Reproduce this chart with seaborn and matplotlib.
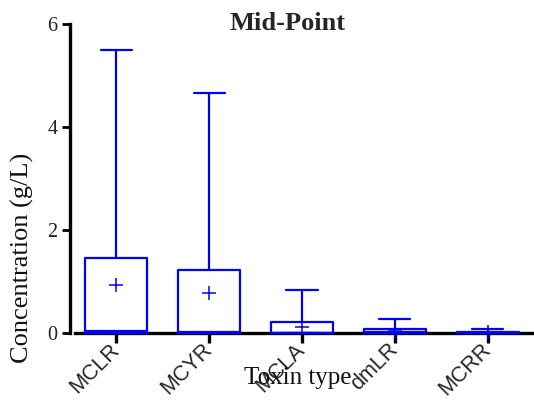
import numpy as np
import pandas as pd
import matplotlib
matplotlib.use("Agg")
import matplotlib.pyplot as plt
import seaborn as sns

# Summary statistics per toxin (g/L)
toxins = ["MCLR", "MCYR", "MCLA", "dmLR", "MCRR"]
minimum = [0.00, 0.00, 0.00, 0.00, 0.00]
lower_q = [0.005, 0.005, 0.00, 0.00, 0.00]
median = [0.045, 0.01, 0.005, 0.01, 0.005]
upper_q = [1.46, 1.22, 0.21, 0.07, 0.02]
maximum = [5.50, 4.66, 0.83, 0.27, 0.08]
means = [0.93, 0.78, 0.12, 0.04, 0.02]

# Five-number summaries as long-form rows; with whiskers spanning
# the 0th-100th percentile, the box reproduces each summary exactly.
rows = []
for i, t in enumerate(toxins):
    for v in (minimum[i], lower_q[i], median[i], upper_q[i], maximum[i]):
        rows.append({"Toxin type": t, "Concentration": v})
df = pd.DataFrame(rows)

sns.set_theme(style="ticks")
plt.rcParams["font.family"] = ["Liberation Serif", "DejaVu Serif"]

fig = plt.figure(figsize=(5.34, 4.05), dpi=100)
ax = fig.add_axes([70 / 534, 1 - 333 / 405, 464 / 534, 309 / 405])

blue = "#0000ff"
sns.boxplot(data=df, x="Toxin type", y="Concentration", order=toxins,
            whis=(0, 100), width=0.67, fill=False, color=blue,
            linewidth=1.6, showfliers=False, ax=ax)
sns.pointplot(x=toxins, y=means, order=toxins, linestyle="none",
              marker="+", markersize=10.5, markeredgewidth=1.1,
              color=blue, errorbar=None, ax=ax)

ax.set_xlim(-0.5, 4.5)
ax.set_ylim(0, 6)
ax.set_yticks([0, 2, 4, 6])
ax.set_yticklabels(["0", "2", "4", "6"])

sns.despine(ax=ax)
for side in ("left", "bottom"):
    ax.spines[side].set_linewidth(2.4)
    ax.spines[side].set_color("black")
    ax.spines[side].set_zorder(1)
ax.spines["bottom"].set_bounds(-0.45, 4.5)

ax.tick_params(axis="y", length=6, width=2, color="black", pad=3,
               labelsize=14.5, labelcolor="#222222")
ax.tick_params(axis="x", length=7, width=2.4, color="black", pad=3)
for lab in ax.get_xticklabels():
    lab.set_fontfamily(["Liberation Sans", "DejaVu Sans"])
    lab.set_fontsize(15.5)
    lab.set_rotation(45)
    lab.set_ha("right")
    lab.set_va("center")
    lab.set_rotation_mode("anchor")

ax.set_xlabel("")
ax.set_ylabel("")
for art in ax.lines + ax.patches:
    art.set_clip_on(False)
    art.set_zorder(3)

fig.text(298 / 534, 1 - 378 / 405, "Toxin type", ha="center", va="center",
         fontsize=18, color="#111111")
fig.text(22 / 534, 1 - 258 / 405, "Concentration (g/L)", ha="center",
         va="center", rotation=90, fontsize=19, color="#111111")
fig.text(288 / 534, 1 - 24 / 405, "Mid-Point", ha="center", va="center",
         fontsize=19, fontweight="bold")

fig.savefig("out.png", dpi=100)
